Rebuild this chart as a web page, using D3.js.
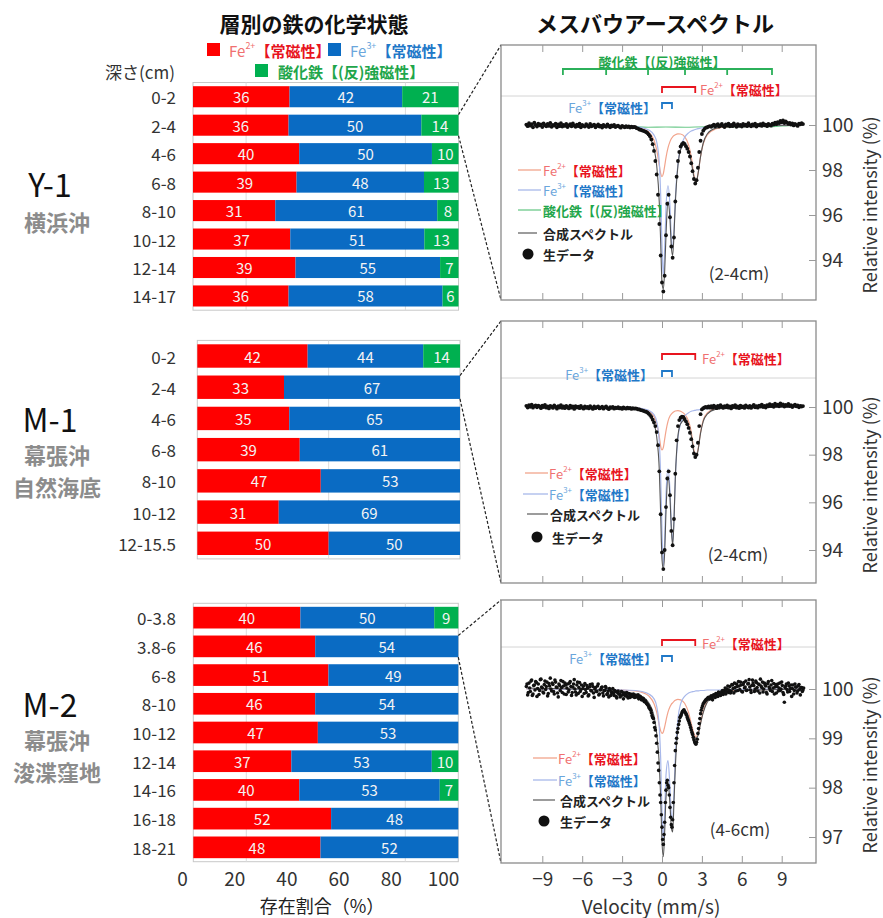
<!DOCTYPE html>
<html><head><meta charset="utf-8">
<script src="https://cdn.jsdelivr.net/npm/d3@7"></script>
<style>
body{margin:0;background:#fff;}
svg{display:block;font-family:"Noto Sans CJK JP","Noto Sans",sans-serif;}
</style></head><body>
<svg id="chart" width="883" height="918"></svg>
<script>
// ---------------- bar chart data ----------------
const y1Depths = ["0-2","2-4","4-6","6-8","8-10","10-12","12-14","14-17"];
const y1Fe2 = [36,36,40,39,31,37,39,36];
const y1Fe3 = [42,50,50,48,61,51,55,58];
const y1Ox  = [21,14,10,13,8,13,7,6];

const m1Depths = ["0-2","2-4","4-6","6-8","8-10","10-12","12-15.5"];
const m1Fe2 = [42,33,35,39,47,31,50];
const m1Fe3 = [44,67,65,61,53,69,50];
const m1Ox  = [14,0,0,0,0,0,0];

const m2Depths = ["0-3.8","3.8-6","6-8","8-10","10-12","12-14","14-16","16-18","18-21"];
const m2Fe2 = [40,46,51,46,47,37,40,52,48];
const m2Fe3 = [50,54,49,54,53,53,53,48,52];
const m2Ox  = [9,0,0,0,0,10,7,0,0];

const barTicks = [0,20,40,60,80,100];

// ---------------- Mossbauer spectra (relative intensity %, 0.1 mm/s channels) ----------------
// left wing ends at -2.1 mm/s, middle runs -2.0..3.5, right wing starts at 3.6
const p1Left = [100.02,99.95,100.08,99.97,100.04,99.9,100.1,100.0,99.93,100.06,
99.98,100.03,99.91,100.07,99.99,99.94,100.05,99.96,100.09,99.92,
100.01,99.97,100.06,99.9,100.03,99.95,100.08,99.93,100.0,99.96,
100.05,99.91,99.98,100.04,99.94,100.07,99.97,99.92,100.02,99.95,
100.06,99.9,100.01,99.96,99.93,100.04,99.97,99.91,100.05,99.94,
99.98,100.02,99.9,99.96,100.03,99.93,99.97,99.89,100.01,99.95,
99.92,100.03,99.96,99.9,99.98,99.94,100.0,99.91,99.95,99.97,
99.92,99.88,99.96,99.93,99.9,99.95,99.91,99.94,99.89,99.93,
99.9,99.92];
const p1Mid = [99.9,99.86,99.84,99.8,99.79,99.76,99.74,99.72,99.69,99.65,
99.58,99.5,99.36,99.15,98.85,98.4,97.8,96.9,95.6,94.2,
93.0,92.6,93.3,95.1,96.5,96.9,95.9,94.6,94.1,95.0,
96.6,97.7,98.4,98.8,99.05,99.15,99.2,99.16,99.06,98.95,
98.8,98.6,98.3,97.95,97.6,97.4,97.55,98.1,98.8,99.3,
99.6,99.75,99.83,99.88,99.9,99.93];
const p1Right = [99.95,99.92,99.97,100.02,99.94,99.99,100.04,99.93,99.98,100.05,
99.96,99.91,100.03,99.97,100.06,99.94,100.0,99.95,100.07,99.98,
99.92,100.04,99.96,100.01,99.93,100.05,99.97,100.02,99.95,100.08,
99.99,99.94,100.03,99.97,100.06,99.93,100.01,99.98,100.04,99.96,
100.07,99.99,100.02,99.95,100.05,100.0,99.97,100.06,100.02,100.1,
100.04,100.13,100.08,100.18,100.12,100.2,100.09,100.16,100.11,100.05,
100.09,100.02,100.07,99.98,100.05,100.01,99.96,100.06,100.03,100.08,
100.04];

const p2Left = [100.05,99.98,100.08,100.01,100.1,99.97,100.04,100.07,99.99,100.06,
100.02,99.95,100.06,100.0,100.09,99.97,100.03,99.94,100.05,100.01,
99.96,100.07,100.0,99.93,100.04,99.98,100.08,99.96,100.02,99.95,
100.05,99.99,99.94,100.06,99.97,100.02,99.92,100.04,99.98,100.01,
99.95,100.05,99.97,99.93,100.03,99.96,100.0,99.94,100.04,99.97,
99.92,100.02,99.95,99.99,100.03,99.94,99.97,100.01,99.93,99.98,
100.02,99.95,99.91,99.99,99.96,100.0,99.93,99.97,99.95,99.99,
99.94,99.96,99.92,99.98,99.95,99.93,99.97,99.94,99.96,99.92,
99.95,99.93];
const p2Mid = [99.94,99.93,99.9,99.9,99.87,99.86,99.84,99.82,99.8,99.77,
99.72,99.66,99.58,99.47,99.35,99.2,98.95,98.4,97.3,95.5,
93.9,93.2,94.0,95.8,97.0,97.3,96.3,94.8,94.2,95.3,
97.2,98.6,99.2,99.45,99.55,99.6,99.58,99.5,99.4,99.28,
99.12,98.92,98.65,98.35,98.05,97.9,98.0,98.5,99.2,99.7,
99.9,99.95,99.98,100.0,99.97,100.02];
const p2Right = [99.97,100.04,99.96,100.06,100.0,99.95,100.05,99.98,100.08,100.01,
99.96,100.04,99.99,100.07,99.97,100.03,99.94,100.05,100.0,100.08,
99.97,100.02,99.95,100.06,99.99,100.03,99.96,100.07,100.01,99.98,
100.05,99.96,100.02,100.09,99.99,100.04,99.97,100.06,100.02,100.1,
100.0,100.05,99.98,100.08,100.03,100.12,100.04,100.09,100.01,100.14,
100.06,100.1,100.03,100.15,100.07,100.11,100.02,100.09,100.05,100.13,
100.04,100.08,100.0,100.06,100.1,100.03,100.07,99.99,100.05,100.02,
100.04];

const p3Left = [100.05,99.88,100.12,99.95,100.18,99.9,100.08,100.15,99.85,100.1,
99.97,100.2,100.02,99.92,100.16,100.05,99.86,100.11,100.22,99.96,
100.09,99.9,100.14,100.03,99.84,100.07,100.17,99.93,100.06,100.12,
99.89,100.1,99.98,100.15,99.87,100.04,100.19,99.94,100.08,99.91,
100.13,99.99,99.85,100.06,100.11,99.93,100.02,99.88,100.09,99.96,
100.05,99.83,100.03,99.95,100.1,99.9,99.99,100.04,99.86,99.97,
100.02,99.91,99.84,99.98,99.93,100.01,99.87,99.95,99.82,99.96,
99.9,99.86,99.94,99.8,99.92,99.88,99.85,99.91,99.83,99.89,
99.86,99.84];
const p3Mid = [99.87,99.85,99.88,99.82,99.83,99.79,99.8,99.74,99.73,99.69,
99.64,99.6,99.52,99.42,99.32,99.17,98.9,98.5,98.1,97.7,
97.2,96.85,97.3,97.95,98.15,98.0,97.6,97.25,97.35,98.1,
98.75,99.0,99.2,99.35,99.45,99.52,99.56,99.55,99.5,99.42,
99.35,99.27,99.17,99.08,98.97,98.9,98.92,99.1,99.3,99.5,
99.62,99.7,99.74,99.78,99.8,99.83];
const p3Right = [99.8,99.86,99.78,99.88,99.83,99.9,99.85,99.92,99.87,99.95,
99.89,99.97,99.9,100.0,99.93,100.05,99.96,100.08,99.92,100.03,
100.1,99.97,100.06,100.14,99.95,100.09,100.02,100.16,99.98,100.11,
100.04,99.93,100.18,100.07,100.0,100.13,99.96,100.09,100.2,100.03,
99.94,100.12,100.06,99.9,100.15,100.01,100.08,99.95,100.11,100.04,
99.92,100.1,100.02,99.97,100.14,99.93,99.73,100.06,99.99,100.12,
99.95,100.08,100.01,99.9,100.1,100.04,99.96,100.09,99.88,100.03,
99.98];
// M-2 spectrum has twice the channel density: second set sits 0.05 mm/s to the right
const p3LeftB = [100.1,99.93,100.02,100.16,99.87,100.07,99.98,100.13,100.01,99.89,
100.19,100.04,99.94,100.09,99.99,100.14,99.91,100.06,100.0,100.12,
99.95,100.18,100.04,99.92,100.1,99.97,100.03,100.15,99.9,100.08,
100.02,99.94,100.12,100.05,99.93,100.1,100.0,99.88,100.14,100.03,
99.95,100.08,100.01,99.91,99.99,100.07,99.86,100.04,99.97,100.1,
99.92,100.0,99.95,100.06,99.88,99.98,100.03,99.92,99.97,100.05,
99.89,99.96,100.01,99.87,99.94,99.91,99.97,99.85,99.93,99.9,
99.84,99.95,99.88,99.91,99.86,99.93,99.82,99.9,99.87,99.85,
99.9,99.83];
const p3MidB = [99.84,99.86,99.8,99.85,99.78,99.81,99.75,99.76,99.7,99.67,
99.61,99.57,99.46,99.4,99.22,99.05,98.72,98.35,97.85,97.45,
96.95,97.05,97.7,98.1,98.05,97.85,97.4,97.2,97.7,98.45,
98.9,99.12,99.28,99.42,99.48,99.55,99.58,99.52,99.47,99.38,
99.31,99.22,99.12,99.02,98.93,98.88,98.98,99.2,99.4,99.57,
99.66,99.72,99.76,99.79,99.82,99.8];
const p3RightB = [99.84,99.81,99.87,99.85,99.91,99.86,99.94,99.89,99.92,99.97,
99.93,100.02,99.95,100.06,99.98,99.92,100.09,100.01,100.12,99.96,
100.05,100.15,99.99,100.08,99.94,100.13,100.04,99.97,100.1,100.19,
99.98,100.07,100.12,99.95,100.16,100.03,100.1,99.92,100.06,100.14,
100.0,100.08,99.93,100.11,100.04,99.97,100.17,100.02,99.9,100.09,
100.05,99.96,100.12,100.0,100.07,99.89,100.03,100.1,99.94,100.06,
100.01,99.85,100.08,99.97,100.04,99.92,100.06,99.99,100.03,99.95,
100.02];

// fitted component curves, read at these velocities (mm/s)
const curveV = [-10.2,-4,-2,-1.5,-1,-0.6,-0.4,-0.2,-0.1,0,0.1,0.2,0.3,0.45,0.6,0.7,0.8,0.9,1.0,1.2,1.4,1.7,2.0,2.2,2.4,2.55,2.7,2.9,3.1,3.4,4,5,10.6];
const p1Fe2Fit = [100,99.97,99.9,99.84,99.69,99.32,98.89,98.19,97.85,97.7,97.84,98.17,98.55,98.98,99.26,99.39,99.47,99.53,99.57,99.61,99.6,99.48,99.11,98.58,97.78,97.45,97.8,98.61,99.16,99.56,99.82,99.93,100];
const p1Fe3Fit = [100,99.98,99.93,99.88,99.78,99.55,99.25,98.3,96.9,94.6,93.3,94.5,96.3,97.3,96.4,95.0,94.5,95.3,96.7,98.3,99.0,99.45,99.65,99.73,99.78,99.81,99.84,99.86,99.88,99.9,99.93,99.96,100];
const p1Sum    = [100,99.95,99.85,99.75,99.5,98.95,98.2,96.5,94.8,93.0,92.7,93.5,95.1,96.6,95.8,94.6,94.2,95.1,96.5,98.2,98.9,99.15,98.85,98.35,97.7,97.4,97.8,98.6,99.2,99.6,99.85,99.93,100];
const p2Fe2Fit = [100,99.98,99.95,99.92,99.83,99.6,99.3,98.75,98.35,98.2,98.3,98.65,99.0,99.4,99.62,99.7,99.76,99.8,99.83,99.85,99.82,99.7,99.4,98.95,98.2,97.95,98.2,98.95,99.45,99.75,99.92,99.97,100];
const p2Fe3Fit = [100,99.99,99.96,99.93,99.86,99.68,99.4,98.5,97.1,94.8,93.3,94.4,96.3,97.4,96.5,95.1,94.3,95.3,97.0,98.7,99.3,99.62,99.76,99.82,99.85,99.87,99.88,99.9,99.92,99.93,99.95,99.97,100];
const p2Sum    = [100,99.97,99.92,99.86,99.7,99.3,98.75,97.3,95.5,93.6,93.2,93.9,95.6,97.1,96.2,94.9,94.2,95.2,97.0,98.8,99.3,99.45,99.2,98.8,98.1,97.85,98.15,98.9,99.4,99.7,99.9,99.96,100];
const p3Fe2Fit = [100,99.99,99.96,99.93,99.86,99.7,99.53,99.26,99.15,99.1,99.13,99.23,99.36,99.53,99.64,99.69,99.72,99.75,99.77,99.79,99.78,99.71,99.52,99.3,99.1,99.03,99.1,99.32,99.55,99.76,99.9,99.96,100];
const p3Fe3Fit = [100,99.99,99.97,99.95,99.9,99.8,99.65,99.2,98.6,97.5,96.95,97.5,98.25,98.55,98.0,97.45,97.35,97.9,98.6,99.4,99.7,99.85,99.92,99.94,99.95,99.96,99.96,99.97,99.97,99.98,99.98,99.99,100];
const p3Sum    = [100.02,99.97,99.9,99.85,99.72,99.45,99.1,98.45,97.8,96.9,96.6,97.1,97.8,98.1,97.65,97.2,97.1,97.7,98.4,99.2,99.45,99.55,99.43,99.23,99.05,99.0,99.05,99.3,99.52,99.73,99.88,99.95,100];
const oxV = [-10.2,-8.5,-7.45,-6,-4.2,-2.6,-1.05,0.3,1.73,3.3,4.9,6.6,8.27,9.5,10.6];
const p1OxFit = [100,99.97,99.93,99.95,99.92,99.93,99.9,99.91,99.9,99.92,99.91,99.94,99.93,99.97,100];

// line positions marked by the brackets (mm/s)
const oxLines = [-7.45,-4.2,-1.05,1.73,4.9,8.27];
const fe2Lines = [0,2.5];
const fe3Lines = [0,0.75];
const velTicks = [-9,-6,-3,0,3,6,9];

// ---------------- drawing ----------------
const svg = d3.select("#chart");
const C = {red:"#ff0000", blue:"#0a6bc3", green:"#00b050",
  txtRed:"#e8141e", txtRedL:"#f07070", txtBlue:"#1f78c8", txtBlueL:"#6aa6dc", txtGreen:"#1fa64b",
  lnFe2:"#f2a48c", lnFe3:"#a8b8ea", lnOx:"#6cc98a", lnSum:"#555"};

function feText(sel, x, y, charge, cL, cD, size, anchor){
  const t = sel.append("text").attr("x",x).attr("y",y).attr("font-size",size)
    .attr("text-anchor",anchor||"start").attr("dominant-baseline","central");
  t.append("tspan").attr("fill",cL).text("Fe");
  t.append("tspan").attr("fill",cL).attr("font-size",size*0.6).attr("dy",-size*0.35).text(charge);
  t.append("tspan").attr("fill",cD).attr("font-weight","bold").attr("dy",size*0.35).text("【常磁性】");
  return t;
}

// titles
svg.append("text").attr("x",314).attr("y",32).attr("text-anchor","middle").attr("font-size",21)
  .attr("font-weight","bold").attr("fill","#111").text("層別の鉄の化学状態");
svg.append("text").attr("x",655).attr("y",32).attr("text-anchor","middle").attr("font-size",22)
  .attr("font-weight","bold").attr("fill","#111").text("メスバウアースペクトル");

// top legend
svg.append("rect").attr("x",207).attr("y",43).attr("width",13).attr("height",13).attr("fill",C.red);
feText(svg,229,50,"2+",C.txtRedL,C.txtRed,15);
svg.append("rect").attr("x",328).attr("y",43).attr("width",13).attr("height",13).attr("fill",C.blue);
feText(svg,350,50,"3+",C.txtBlueL,C.txtBlue,15);
svg.append("rect").attr("x",255).attr("y",64).attr("width",13).attr("height",13).attr("fill",C.green);
svg.append("text").attr("x",278).attr("y",71).attr("dominant-baseline","central").attr("font-size",15)
  .attr("font-weight","bold").attr("fill",C.txtGreen).text("酸化鉄【(反)強磁性】");
svg.append("text").attr("x",140).attr("y",71).attr("text-anchor","middle").attr("dominant-baseline","central")
  .attr("font-size",17).attr("fill","#333").text("深さ(cm)");

// spectrum panels layout
const specPanels = [
  {top:45,bottom:300,yTicks:[94,96,98,100],yDom:[94,100],yRng:[260,125],
   sets:[[p1Left,p1Mid,p1Right,0]],fe2:p1Fe2Fit,fe3:p1Fe3Fit,sum:p1Sum,ox:p1OxFit,r:1.9,
   sep:96, oxTextY:61, oxLineY:69, fe2LineY:87, fe2TextX:700, fe2TextY:89, fe3LineY:103, fe3TextX:656, fe3TextY:107,
   sample:"(2-4cm)", sx:739, sy:272, ylabY:205,
   legend:[{k:"fe2",x0:518,x1:541,tx:543,y:170},{k:"fe3",x0:518,x1:541,tx:543,y:190},{k:"ox",x0:518,x1:541,tx:543,y:210},
           {k:"sum",x0:518,x1:537,tx:543,y:233},{k:"raw",x0:528,tx:543,y:254}]},
  {top:321,bottom:583,yTicks:[94,96,98,100],yDom:[94,100],yRng:[550,407],
   sets:[[p2Left,p2Mid,p2Right,0]],fe2:p2Fe2Fit,fe3:p2Fe3Fit,sum:p2Sum,ox:null,r:1.9,
   sep:378, fe2LineY:354, fe2TextX:702, fe2TextY:358, fe3LineY:371, fe3TextX:653, fe3TextY:374,
   sample:"(2-4cm)", sx:738, sy:553, ylabY:485,
   legend:[{k:"fe2",x0:525,x1:548,tx:549,y:473},{k:"fe3",x0:523,x1:548,tx:549,y:494},
           {k:"sum",x0:527,x1:548,tx:550,y:514},{k:"raw",x0:537,tx:552,y:537}]},
  {top:600,bottom:863,yTicks:[97,98,99,100],yDom:[97,100],yRng:[837,689],
   sets:[[p3Left,p3Mid,p3Right,0],[p3LeftB,p3MidB,p3RightB,0.05]],fe2:p3Fe2Fit,fe3:p3Fe3Fit,sum:p3Sum,ox:null,r:1.8,
   sep:647, fe2LineY:640, fe2TextX:702, fe2TextY:643, fe3LineY:656, fe3TextX:657, fe3TextY:658,
   sample:"(4-6cm)", sx:740, sy:828, ylabY:765, xLabels:true,
   legend:[{k:"fe2",x0:533,x1:557,tx:558,y:758},{k:"fe3",x0:533,x1:557,tx:558,y:780},
           {k:"sum",x0:533,x1:555,tx:560,y:800},{k:"raw",x0:544,tx:560,y:821}]}
];

// bar panels layout
const barPanels = [
  {depths:y1Depths,fe2:y1Fe2,fe3:y1Fe3,ox:y1Ox,x0:193,x1:458.5,top:82.5,bottom:310.2,pad:0.26,grid:[20,80],zoomRow:"2-4",spec:0,
   name:"Y-1",nameY:197,sub:["横浜沖"],subY:[231]},
  {depths:m1Depths,fe2:m1Fe2,fe3:m1Fe3,ox:m1Ox,x0:197.3,x1:460,top:340.4,bottom:558.9,pad:0.25,grid:[50],zoomRow:"2-4",spec:1,
   name:"M-1",nameY:432,sub:["幕張沖","自然海底"],subY:[464,496]},
  {depths:m2Depths,fe2:m2Fe2,fe3:m2Fe3,ox:m2Ox,x0:193.3,x1:458.3,top:603.3,bottom:861.7,pad:0.245,grid:[20,80],zoomRow:"3.8-6",spec:2,
   name:"M-2",nameY:717,sub:["幕張沖","浚渫窪地"],subY:[749,781]}
];

const keys = ["fe2","fe3","ox"];
const colors = {fe2:C.red, fe3:C.blue, ox:C.green};
const stack = d3.stack().keys(keys).offset(d3.stackOffsetExpand);

barPanels.forEach(p => {
  const rows = p.depths.map((d,i)=>({depth:d, fe2:p.fe2[i], fe3:p.fe3[i], ox:p.ox[i]}));
  const series = stack(rows);
  const xs = d3.scaleLinear().domain([0,1]).range([p.x0,p.x1]);
  const ys = d3.scaleBand().domain(p.depths).range([p.top,p.bottom]).paddingInner(p.pad).paddingOuter(p.pad/2);
  const g = svg.append("g");
  g.append("rect").attr("x",p.x0).attr("y",p.top).attr("width",p.x1-p.x0).attr("height",p.bottom-p.top)
    .attr("fill","#fff").attr("stroke","#c8c8c8").attr("stroke-width",1);
  g.selectAll("line.grid").data(p.grid).join("line").attr("class","grid")
    .attr("x1",d=>xs(d/100)).attr("x2",d=>xs(d/100)).attr("y1",p.top).attr("y2",p.bottom)
    .attr("stroke","#dcdcdc").attr("stroke-width",1);
  series.forEach(s => {
    g.selectAll(null).data(s).join("rect")
      .attr("x",d=>xs(d[0])).attr("width",d=>Math.max(0,xs(d[1])-xs(d[0])))
      .attr("y",d=>ys(d.data.depth)).attr("height",ys.bandwidth()).attr("fill",colors[s.key]);
    g.selectAll(null).data(s.filter(d=>d.data[s.key]>0)).join("text")
      .attr("x",d=>(xs(d[0])+xs(d[1]))/2).attr("y",d=>ys(d.data.depth)+ys.bandwidth()/2)
      .attr("text-anchor","middle").attr("dominant-baseline","central").attr("font-size",15)
      .attr("fill","#f4f4f4").text(d=>d.data[s.key]);
  });
  g.selectAll("text.depth").data(p.depths).join("text").attr("class","depth")
    .attr("x",176).attr("y",d=>ys(d)+ys.bandwidth()/2).attr("text-anchor","end")
    .attr("dominant-baseline","central").attr("font-size",17).attr("fill","#333").text(d=>d);
  // site labels
  svg.append("text").attr("x",50).attr("y",p.nameY).attr("text-anchor","middle").attr("font-size",32)
    .attr("fill","#111").text(p.name);
  p.sub.forEach((t,i)=>svg.append("text").attr("x",57).attr("y",p.subY[i]).attr("text-anchor","middle")
    .attr("font-size",22).attr("font-weight","bold").attr("fill","#8c8c8c").text(t));
  // zoom connector lines
  const sp = specPanels[p.spec];
  const yTop = ys(p.zoomRow), yBot = ys(p.zoomRow)+ys.bandwidth();
  [[yTop,sp.top],[yBot,sp.bottom]].forEach(([a,b])=>{
    svg.append("line").attr("x1",p.x1).attr("y1",a).attr("x2",501).attr("y2",b)
      .attr("stroke","#222").attr("stroke-width",1.2).attr("stroke-dasharray","3,2");
  });
});

// bar x axis
const barAxisScale = d3.scaleLinear().domain([0,100]).range([182,443]);
const bax = svg.append("g").attr("transform","translate(0,869)")
  .call(d3.axisBottom(barAxisScale).tickValues(barTicks).tickSize(0).tickPadding(3));
bax.select(".domain").remove();
bax.selectAll("text").attr("font-size",19).attr("fill","#333").attr("font-family","'Noto Sans CJK JP',sans-serif");
svg.append("text").attr("x",322).attr("y",913).attr("text-anchor","middle").attr("font-size",18)
  .attr("fill","#222").text("存在割合（%）");

// spectra
const xs = d3.scaleLinear().domain([-9,9]).range([542.3,781.7]);
const FX0 = 501, FX1 = 816;

function buildSpectrum(left, mid, right, off){
  const pts = [];
  left.forEach((y,i)=>pts.push([-2.1-0.1*(left.length-1-i)+off, y]));
  mid.forEach((y,i)=>pts.push([-2.0+0.1*i+off, y]));
  right.forEach((y,i)=>pts.push([3.6+0.1*i+off, y]));
  return pts;
}

specPanels.forEach(p => {
  const ys = d3.scaleLinear().domain(p.yDom).range(p.yRng);
  const g = svg.append("g");
  g.append("rect").attr("x",FX0).attr("y",p.top).attr("width",FX1-FX0).attr("height",p.bottom-p.top)
    .attr("fill","#fff");
  g.append("line").attr("x1",FX0).attr("x2",FX1).attr("y1",p.sep).attr("y2",p.sep)
    .attr("stroke","#d4d4d4").attr("stroke-width",1);

  const line = d3.line().x(d=>xs(d[0])).y(d=>ys(d[1])).curve(d3.curveMonotoneX);
  const pairs = (vs, vals) => vs.map((v,i)=>[v, vals[i]]);
  if (p.ox) g.append("path").attr("d",line(pairs(oxV,p.ox))).attr("fill","none").attr("stroke",C.lnOx).attr("stroke-width",1.1);
  g.append("path").attr("d",line(pairs(curveV,p.fe2))).attr("fill","none").attr("stroke",C.lnFe2).attr("stroke-width",1.2);
  g.append("path").attr("d",line(pairs(curveV,p.fe3))).attr("fill","none").attr("stroke",C.lnFe3).attr("stroke-width",1.2);
  g.append("path").attr("d",line(pairs(curveV,p.sum))).attr("fill","none").attr("stroke",C.lnSum).attr("stroke-width",1.1);

  const data = [].concat(...p.sets.map(s=>buildSpectrum(s[0],s[1],s[2],s[3])));
  g.selectAll("circle.pt").data(data).join("circle").attr("class","pt")
    .attr("cx",d=>xs(d[0])).attr("cy",d=>ys(d[1])).attr("r",p.r).attr("fill","#111");

  // frame and axes
  g.append("rect").attr("x",FX0).attr("y",p.top).attr("width",FX1-FX0).attr("height",p.bottom-p.top)
    .attr("fill","none").attr("stroke","#8a8a8a").attr("stroke-width",1.3);
  const topAx = g.append("g").attr("transform",`translate(0,${p.top})`)
    .call(d3.axisTop(xs).tickValues(velTicks).tickSizeInner(-7).tickSizeOuter(0).tickFormat(""));
  const botAx = g.append("g").attr("transform",`translate(0,${p.bottom})`)
    .call(d3.axisBottom(xs).tickValues(velTicks).tickSizeInner(-7).tickSizeOuter(0).tickPadding(10)
      .tickFormat(p.xLabels ? d3.format("d") : ""));
  const rAx = g.append("g").attr("transform",`translate(${FX1},0)`)
    .call(d3.axisRight(ys).tickValues(p.yTicks).tickSizeInner(-7).tickSizeOuter(0).tickPadding(6).tickFormat(d3.format("d")));
  [topAx,botAx,rAx].forEach(a=>{
    a.select(".domain").remove();
    a.selectAll("line").attr("stroke","#9a9a9a");
    a.selectAll("text").attr("font-size",19).attr("fill","#333").attr("font-family","'Noto Sans CJK JP',sans-serif");
  });
  svg.append("text").attr("transform",`translate(869,${p.ylabY}) rotate(-90)`).attr("text-anchor","middle")
    .attr("dominant-baseline","central").attr("font-size",18).attr("fill","#333").text("Relative intensity (%)");

  // brackets
  const bracket = (vals, y, color) => {
    let d = `M${xs(vals[0])},${y+6}V${y}H${xs(vals[vals.length-1])}V${y+6}`;
    vals.slice(1,-1).forEach(v=>{ d += `M${xs(v)},${y}V${y+6}`; });
    g.append("path").attr("d",d).attr("fill","none").attr("stroke",color).attr("stroke-width",1.8);
  };
  if (p.ox) {
    bracket(oxLines, p.oxLineY, "#2bb05a");
    g.append("text").attr("x",662).attr("y",p.oxTextY).attr("text-anchor","middle").attr("dominant-baseline","central")
      .attr("font-size",13).attr("font-weight","bold").attr("fill",C.txtGreen).text("酸化鉄【(反)強磁性】");
  }
  bracket(fe2Lines, p.fe2LineY, "#e8141e");
  feText(g, p.fe2TextX, p.fe2TextY, "2+", C.txtRedL, C.txtRed, 13);
  bracket(fe3Lines, p.fe3LineY, C.txtBlue);
  feText(g, p.fe3TextX, p.fe3TextY, "3+", C.txtBlueL, C.txtBlue, 13, "end");

  // legend
  p.legend.forEach(it => {
    if (it.k === "raw") {
      g.append("circle").attr("cx",it.x0).attr("cy",it.y).attr("r",5.5).attr("fill","#111");
      g.append("text").attr("x",it.tx).attr("y",it.y).attr("dominant-baseline","central").attr("font-size",13)
        .attr("font-weight","bold").attr("fill","#222").text("生データ");
      return;
    }
    const col = {fe2:C.lnFe2, fe3:C.lnFe3, ox:C.lnOx, sum:"#666"}[it.k];
    g.append("line").attr("x1",it.x0).attr("x2",it.x1).attr("y1",it.y).attr("y2",it.y).attr("stroke",col).attr("stroke-width",1.3);
    if (it.k === "fe2") feText(g, it.tx, it.y, "2+", C.txtRedL, C.txtRed, 13);
    else if (it.k === "fe3") feText(g, it.tx, it.y, "3+", C.txtBlueL, C.txtBlue, 13);
    else if (it.k === "ox") g.append("text").attr("x",it.tx).attr("y",it.y).attr("dominant-baseline","central")
      .attr("font-size",13).attr("font-weight","bold").attr("fill",C.txtGreen).text("酸化鉄【(反)強磁性】");
    else g.append("text").attr("x",it.tx).attr("y",it.y).attr("dominant-baseline","central")
      .attr("font-size",13).attr("font-weight","bold").attr("fill","#222").text("合成スペクトル");
  });
  g.append("text").attr("x",p.sx).attr("y",p.sy).attr("text-anchor","middle").attr("dominant-baseline","central")
    .attr("font-size",17).attr("fill","#333").text(p.sample);
});

svg.append("text").attr("x",651).attr("y",914).attr("text-anchor","middle").attr("font-size",19)
  .attr("fill","#333").text("Velocity (mm/s)");
</script>
</body></html>
